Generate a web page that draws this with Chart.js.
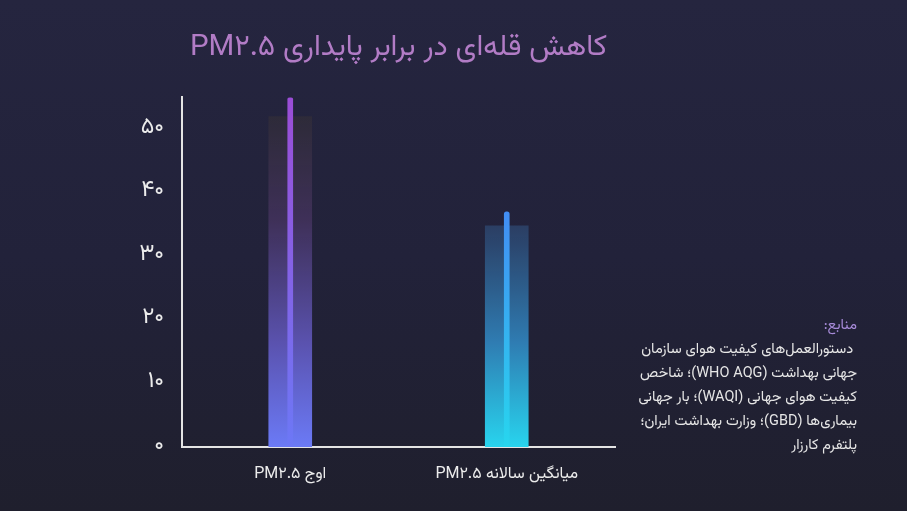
<!DOCTYPE html>
<html lang="fa">
<head>
<meta charset="utf-8">
<script src="https://cdn.jsdelivr.net/npm/chart.js@4.4.1/dist/chart.umd.min.js"></script>
<style>
  html,body{margin:0;padding:0;}
  body{width:907px;height:511px;overflow:hidden;
    background:linear-gradient(180deg,#25253f 0%,#22223a 50%,#1f1f2d 100%);
    font-family:Vazirmatn,"Noto Sans Arabic","DejaVu Sans",sans-serif;position:relative;}
  #wrap{position:absolute;left:0;top:0;width:640px;height:511px;}
  #c{direction:rtl;}
  #src{position:absolute;right:50px;top:314px;width:280px;direction:rtl;text-align:right;
    color:#e6e6e6;font-size:14.5px;line-height:24px;}
  #src .h{color:#a68ad8;}
</style>
</head>
<body>
<div id="wrap"><canvas id="c" dir="rtl"></canvas></div>
<div id="src"><div class="h">منابع:</div>
&nbsp;دستورالعمل‌های کیفیت هوای سازمان<br>جهانی بهداشت (WHO AQG)؛ شاخص<br>کیفیت هوای جهانی (WAQI)؛ بار جهانی<br>بیماری‌ها (GBD)؛ وزارت بهداشت ایران؛<br>پلتفرم کارزار</div>
<script>
const categories = ['اوج PM۲.۵', 'میانگین سالانه PM۲.۵'];
const coreValues = [55, 37];
const glowValues = [52, 34.8];
const yTickLabels = ['۰','۱۰','۲۰','۳۰','۴۰','۵۰'];
const titleText = 'کاهش قله‌ای در برابر پایداری PM۲.۵';

const coreStops = [['#9b4dd6','#6c78f6'],['#4f6af6','#27d6ee']];
const glowStops = [
  [[0,'rgba(46,44,50,0.75)'],[0.35,'rgba(66,50,92,0.9)'],[0.7,'#5a52ae'],[1,'#6b7af6']],
  [[0,'rgba(46,44,50,0.75)'],[0.35,'rgba(44,62,100,0.9)'],[0.7,'#2f7cb2'],[1,'#28d4ee']]
];

function grad(ctx, stops){
  const chart = ctx.chart; const area = chart.chartArea;
  if(!area) return stops[stops.length-1][1];
  const el = ctx.element;
  const top = el && el.y !== undefined && !isNaN(el.y) ? el.y : area.top;
  const g = chart.ctx.createLinearGradient(0, top, 0, area.bottom);
  stops.forEach(s => g.addColorStop(s[0], s[1]));
  return g;
}

const FONT = 'Vazirmatn, "Noto Sans Arabic", "DejaVu Sans", sans-serif';

new Chart(document.getElementById('c'), {
  type: 'bar',
  data: {
    labels: categories,
    datasets: [
      {
        data: glowValues,
        grouped: false,
        barThickness: 43,
        order: 2,
        backgroundColor: (ctx) => grad(ctx, glowStops[ctx.dataIndex] || glowStops[0]),
        borderWidth: 0
      },
      {
        data: coreValues,
        grouped: false,
        barThickness: 5,
        order: 1,
        borderRadius: {topLeft: 3, topRight: 3, bottomLeft: 0, bottomRight: 0},
        borderSkipped: 'bottom',
        backgroundColor: (ctx) => grad(ctx, [[0, (coreStops[ctx.dataIndex]||coreStops[0])[0]],[1,(coreStops[ctx.dataIndex]||coreStops[0])[1]]]),
        borderWidth: 0
      }
    ]
  },
  options: {
    responsive: true,
    maintainAspectRatio: false,
    animation: false,
    layout: { padding: { left: 122, right: 25, top: 0, bottom: 26 } },
    plugins: {
      legend: { display: false },
      tooltip: { enabled: false },
      title: {
        display: true,
        text: titleText,
        fullSize: false,
        color: '#b27cc6',
        font: { family: FONT, size: 29.5, weight: 'normal' },
        padding: { top: 33, bottom: 29 }
      }
    },
    scales: {
      x: {
        grid: { display: false, drawTicks: false },
        border: { display: true, color: '#e4e4e4', width: 2 },
        ticks: { color: '#ececec', font: { family: FONT, size: 16 }, padding: 19 },
        afterFit: (s) => { s.height = 38; }
      },
      y: {
        min: 0, max: 55,
        grid: { display: false, drawTicks: false },
        border: { display: true, color: '#e4e4e4', width: 2 },
        ticks: {
          stepSize: 10,
          color: '#ececec',
          font: { family: FONT, size: 23 },
          padding: 18,
          callback: (v) => yTickLabels[v / 10]
        },
        afterFit: (s) => { s.width = 60; }
      }
    }
  }
});
</script>
</body>
</html>
